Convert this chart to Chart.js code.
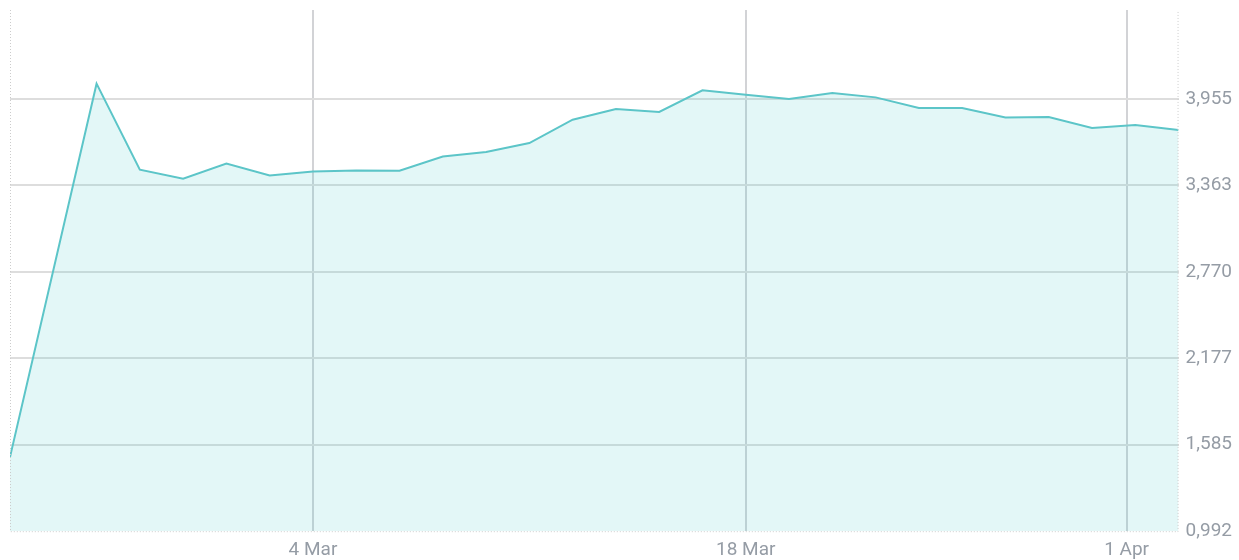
<!DOCTYPE html>
<html>
<head>
<meta charset="utf-8">
<script src="https://cdn.jsdelivr.net/npm/chart.js@4.4.1/dist/chart.umd.min.js"></script>
<style>
  html, body { margin: 0; padding: 0; background: #ffffff; }
  #wrap { width: 1239px; height: 560px; position: relative; }
</style>
</head>
<body>
<div id="wrap"><canvas id="c" width="1239" height="560"></canvas></div>
<script>
// ---- data ----
const dates = [
  '2024-02-22', '2024-02-23', '2024-02-26', '2024-02-27', '2024-02-28', '2024-02-29', '2024-03-01',
  '2024-03-04', '2024-03-05', '2024-03-06', '2024-03-07', '2024-03-08',
  '2024-03-11', '2024-03-12', '2024-03-13', '2024-03-14', '2024-03-15',
  '2024-03-18', '2024-03-19', '2024-03-20', '2024-03-21', '2024-03-22',
  '2024-03-25', '2024-03-26', '2024-03-27', '2024-03-28',
  '2024-04-02', '2024-04-03'
];
const values = [
  1.500, null, 4.060, 3.470, 3.408, 3.513, 3.431,
  3.458, 3.465, 3.463, 3.561, 3.591,
  3.653, 3.813, 3.886, 3.866, 4.014,
  3.984, 3.955, 3.996, 3.966, 3.893,
  3.893, 3.828, 3.831, 3.756,
  3.777, 3.742
];
const xTickDates = ['2024-03-04', '2024-03-18', '2024-04-01'];
const xTickLabels = ['4 Mar', '18 Mar', '1 Apr'];
const yTickValues = [0.992, 1.585, 2.177, 2.770, 3.363, 3.955];
const yMin = 0.992;
const yMax = 4.565;

// ---- helpers: place a date on the index axis (like a time-series axis) ----
const dayOf = s => Date.parse(s + 'T00:00:00Z') / 86400000;
const dateDays = dates.map(dayOf);
function dateToIndex(s) {
  const d = dayOf(s);
  for (let i = 0; i < dateDays.length - 1; i++) {
    if (d >= dateDays[i] && d <= dateDays[i + 1]) {
      return i + (d - dateDays[i]) / (dateDays[i + 1] - dateDays[i]);
    }
  }
  return d < dateDays[0] ? 0 : dateDays.length - 1;
}
const xTickPos = xTickDates.map(dateToIndex);

const points = values.map((v, i) => ({ x: i, y: v }));

const FONT = { family: 'Roboto, "Liberation Sans", sans-serif', size: 19 };
const LABEL_COLOR = '#959ca5';

// dotted frame on left, right and bottom of the plot area
const dottedFrame = {
  id: 'dottedFrame',
  afterDatasetsDraw(chart) {
    const { ctx, chartArea: a } = chart;
    ctx.save();
    ctx.strokeStyle = '#cccccc';
    ctx.lineWidth = 1;
    ctx.setLineDash([1, 2]);
    ctx.beginPath();
    ctx.moveTo(a.left + 0.5, a.top);
    ctx.lineTo(a.left + 0.5, a.bottom + 0.5);
    ctx.lineTo(a.right - 0.5, a.bottom + 0.5);
    ctx.lineTo(a.right - 0.5, a.top);
    ctx.stroke();
    ctx.restore();
  }
};

new Chart(document.getElementById('c'), {
  type: 'line',
  data: {
    datasets: [{
      data: points,
      borderColor: '#5cc5c8',
      borderWidth: 2,
      backgroundColor: 'rgba(68, 202, 202, 0.15)',
      fill: 'start',
      tension: 0,
      pointRadius: 0,
      pointHoverRadius: 0,
      spanGaps: true,
      yAxisID: 'y'
    }]
  },
  plugins: [dottedFrame],
  options: {
    responsive: false,
    animation: false,
    events: [],
    layout: { padding: { left: 10, top: 10, right: 0, bottom: -10 } },
    plugins: { legend: { display: false }, tooltip: { enabled: false } },
    scales: {
      x: {
        type: 'linear',
        min: 0,
        max: dates.length - 1,
        afterBuildTicks: axis => { axis.ticks = xTickPos.map(v => ({ value: v })); },
        ticks: {
          autoSkip: false,
          maxRotation: 0,
          padding: 8,
          color: LABEL_COLOR,
          font: FONT,
          callback: (v, i) => xTickLabels[i]
        },
        grid: { display: true, color: '#d2d3d6', lineWidth: 2, drawTicks: false },
        border: { display: false }
      },
      y: {
        type: 'linear',
        position: 'right',
        min: yMin,
        max: yMax,
        afterBuildTicks: axis => { axis.ticks = yTickValues.map(v => ({ value: v })); },
        ticks: {
          padding: 7,
          color: LABEL_COLOR,
          font: Object.assign({}, FONT, { lineHeight: '2px' }),
          callback: v => Number(v).toFixed(3).replace('.', ',')
        },
        grid: {
          display: true,
          drawTicks: false,
          lineWidth: 2,
          color: c => (c.index === 0 ? 'rgba(0,0,0,0)' : '#dddddd')
        },
        border: { display: false }
      }
    }
  }
});
</script>
</body>
</html>
